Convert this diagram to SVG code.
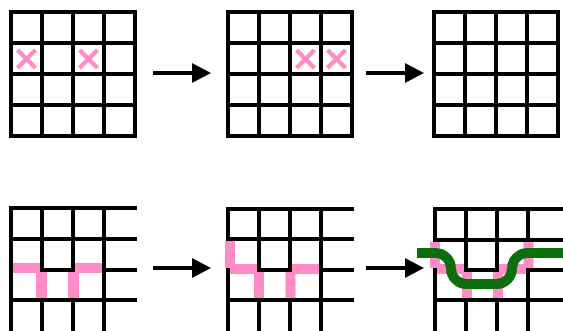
<svg xmlns="http://www.w3.org/2000/svg" width="563" height="331" viewBox="0 0 563 331">
<style>
.ln{fill:none;stroke:#000;stroke-width:4;stroke-linecap:square}
.grid{fill:none;stroke:#000;stroke-width:4;stroke-linejoin:miter}
.pk{fill:none;stroke:#ff8cc6;stroke-width:10;stroke-linecap:butt}
.pkv{fill:none;stroke:#ff8cc6;stroke-width:11;stroke-linecap:butt}
.x{fill:none;stroke:#ff8cc6;stroke-width:4.5;stroke-linecap:butt}
.arrow{fill:none;stroke:#000;stroke-width:4;marker-end:url(#head)}
.wire{fill:none;stroke:#0c6e0c;stroke-width:10;stroke-linecap:butt}
</style>
<defs>
<marker id="head" markerUnits="userSpaceOnUse" markerWidth="20" markerHeight="20" refX="1" refY="10" orient="auto" viewBox="0 0 20 20">
<path d="M0 0 L19 10 L0 20 Z" fill="#000"/>
</marker>
<g id="grid4">
<rect class="grid" x="0" y="0" width="124" height="124"/>
<path class="grid" d="M31 0 V124 M62 0 V124 M93 0 V124 M0 31 H124 M0 62 H124 M0 93 H124"/>
</g>
<path id="xmark" class="x" d="M-9 -9 L9 9 M9 -9 L-9 9"/>
</defs>
<rect width="563" height="331" fill="#fff"/>

<g id="top1">
<use href="#grid4" x="11" y="12"/>
<use href="#xmark" x="26.5" y="59"/>
<use href="#xmark" x="88.5" y="59"/>
</g>
<g id="top2">
<use href="#grid4" x="228" y="12"/>
<use href="#xmark" x="305.5" y="59"/>
<use href="#xmark" x="336.5" y="59"/>
</g>
<g id="top3">
<use href="#grid4" x="434" y="12"/>
</g>

<g id="bottom1">
<path class="pk" d="M11 268 H42 M73 268 H104"/>
<path class="pkv" d="M41.5 268 V300 M73.5 268 V300"/>
<path class="ln" d="M11 208 H135 M11 239 H135 M42 270 H73 M104 270 H135 M11 300 H135 M11 208 V335 M42 208 V270 M42 300 V335 M73 208 V270 M73 300 V335 M104 208 V335"/>
</g>
<g id="bottom2">
<path class="pk" d="M230 241 V268 M230 269 H261 M259 269 V300 M290.5 269 V300 M290 269 H321"/>
<path class="ln" d="M228 209 H352 M228 239 H352 M259 270 H290 M321 270 H352 M228 300 H352 M228 209 V239 M228 270 V335 M259 209 V270 M259 300 V335 M290 209 V270 M290 300 V335 M321 209 V335"/>
</g>
<g id="bottom3">
<path class="pk" d="M435 242 V268 M435 269 H467 M467 269 V300 M498 269 V300 M497 269 H529 M528.5 242 V268"/>
<path class="ln" d="M435 209 H565 M435 240 H565 M466 270 H497 M528 270 H565 M435 300 H565 M435 209 V240 M435 270 V335 M466 209 V270 M466 300 V335 M497 209 V270 M497 300 V335 M528 209 V240 M528 270 V335"/>
<path class="wire" d="M417 253 H435.5 A15.5 15.5 0 0 1 451 268.5 A15.5 15.5 0 0 0 466.5 284 H496.5 A15.5 15.5 0 0 0 512 268.5 A15.5 15.5 0 0 1 527.5 253 H565"/>
</g>

<g id="connectors">
<path class="arrow" d="M153 73 H193"/>
<path class="arrow" d="M366 73 H406"/>
<path class="arrow" d="M153 268 H193"/>
<path class="arrow" d="M366 268 H406"/>
</g>
</svg>
